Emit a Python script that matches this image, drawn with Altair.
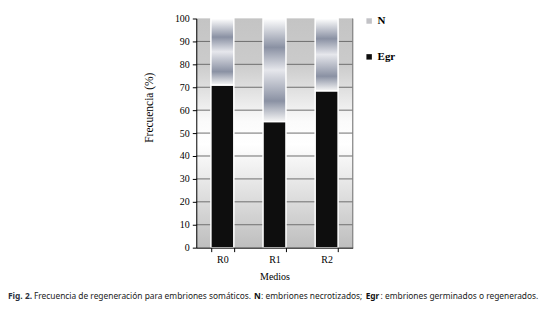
import altair as alt
import pandas as pd

# ---- data ----
medios = ["R0", "R1", "R2"]
egr = [71.0, 55.0, 68.5]          # Egr: embriones germinados o regenerados
n_vals = [29.0, 45.0, 31.5]       # N: embriones necrotizados (top segment)
y_ticks = [0, 10, 20, 30, 40, 50, 60, 70, 80, 90, 100]
grid_vals = [10, 20, 30, 40, 50, 60, 70, 80, 90]
series = ["N", "Egr"]

caption_parts = [
    "Fig. 2.",
    "Frecuencia de regeneración para embriones somáticos.",
    "N",
    ": embriones necrotizados;",
    "Egr",
    ": embriones germinados o regenerados.",
]

df = pd.DataFrame({"Medios": medios, "Egr": egr, "N": n_vals, "serie": ["Egr"] * 3})
grid_df = pd.DataFrame({"v": grid_vals})
one = pd.DataFrame({"k": [0]})

W, H = 157, 230
SERIF = "Liberation Serif"
SANS = "Noto Sans"

bg_grad = alt.Gradient(
    gradient="linear", x1=0, x2=0, y1=0, y2=1,
    stops=[
        alt.GradientStop(offset=0.0, color="#c4c4c4"),
        alt.GradientStop(offset=0.2, color="#cbcbcb"),
        alt.GradientStop(offset=0.45, color="#fbfbfb"),
        alt.GradientStop(offset=0.55, color="#ffffff"),
        alt.GradientStop(offset=1.0, color="#bebebe"),
    ],
)

n_grad = alt.Gradient(
    gradient="linear", x1=0, x2=0, y1=0, y2=1,
    stops=[
        alt.GradientStop(offset=0.0, color="#ffffff"),
        alt.GradientStop(offset=0.28, color="#8a91a3"),
        alt.GradientStop(offset=0.5, color="#e6e7ec"),
        alt.GradientStop(offset=0.8, color="#8a91a3"),
        alt.GradientStop(offset=1.0, color="#f6f6f6"),
    ],
)

x_axis = alt.Axis(
    title="Medios", labelAngle=0, tickBand="extent", tickSize=4,
    domainColor="#000000", tickColor="#000000", labelColor="#000000",
    titleColor="#000000", labelFont=SERIF, titleFont=SERIF,
    labelFontSize=10, titleFontSize=10, titleFontWeight="normal",
    labelPadding=3, titlePadding=7, grid=False, zindex=1,
)
x_scale = alt.Scale(paddingInner=0.56, paddingOuter=0.28)

y_axis = alt.Axis(
    title="Frecuencia (%)", values=y_ticks, tickSize=4,
    domainColor="#000000", tickColor="#000000", labelColor="#000000",
    titleColor="#000000", labelFont=SERIF, titleFont=SERIF,
    labelFontSize=10, titleFontSize=11.5, titleFontWeight="normal",
    labelPadding=3, titlePadding=20, titleY=89, grid=False, zindex=1,
)
y_scale = alt.Scale(domain=[0, 100], nice=False)

background = alt.Chart(one).mark_rect(fill=bg_grad).encode(
    x=alt.value(0), x2=alt.value(W), y=alt.value(0), y2=alt.value(H)
)

grid = alt.Chart(grid_df).mark_rule(color="#6e6e6e", strokeWidth=1).encode(
    x=alt.value(0), x2=alt.value(W),
    y=alt.Y("v:Q", scale=y_scale, axis=y_axis),
)

egr_bars = alt.Chart(df).mark_bar(stroke="#ffffff", strokeWidth=1.5).encode(
    x=alt.X("Medios:N", sort=medios, scale=x_scale, axis=x_axis),
    y=alt.Y("Egr:Q", scale=y_scale, axis=y_axis),
    y2=alt.datum(0),
    color=alt.Color(
        "serie:N",
        scale=alt.Scale(domain=series, range=["#c2c2c6", "#0e0e0e"]),
        legend=alt.Legend(
            title=None, orient="none", legendX=168, legendY=-3,
            symbolType="square", symbolSize=30, symbolStrokeWidth=0,
            labelFont=SERIF, labelFontSize=11, labelFontWeight="bold",
            labelColor="#000000", rowPadding=24, labelOffset=3,
        ),
    ),
)

n_bars = alt.Chart(df).transform_calculate(top="datum.Egr + datum.N").mark_bar(
    fill=n_grad, stroke="#ffffff", strokeWidth=1.5
).encode(
    x=alt.X("Medios:N", sort=medios, scale=x_scale, axis=x_axis),
    y=alt.Y("Egr:Q", scale=y_scale, axis=y_axis),
    y2=alt.Y2("top:Q"),
)

right_border = alt.Chart(one).mark_rule(color="#7a7a7a", strokeWidth=1).encode(
    x=alt.value(W), y=alt.value(0), y2=alt.value(H)
)

cap_y = 282
cap_specs = [
    (caption_parts[0], -189, "bold", "#2b3140"),
    (caption_parts[1], -163, "normal", "#222222"),
    (caption_parts[2], 58, "bold", "#111111"),
    (caption_parts[3], 65, "normal", "#222222"),
    (caption_parts[4], 170, "bold", "#111111"),
    (caption_parts[5], 185, "normal", "#222222"),
]
cap_layers = []
for txt, xx, wt, col in cap_specs:
    cap_layers.append(
        alt.Chart(one).mark_text(
            align="left", baseline="alphabetic", font=SANS, fontSize=8.4,
            fontWeight=wt, color=col,
        ).encode(x=alt.value(xx), y=alt.value(cap_y), text=alt.value(txt))
    )

chart = alt.layer(background, grid, egr_bars, n_bars, right_border, *cap_layers).properties(
    width=W, height=H,
    padding={"left": 0, "top": 5, "right": 0, "bottom": 0},
).configure_view(stroke=None).configure(background="#ffffff")

chart.save("out.html", embed_options={"renderer": "svg", "actions": False})
